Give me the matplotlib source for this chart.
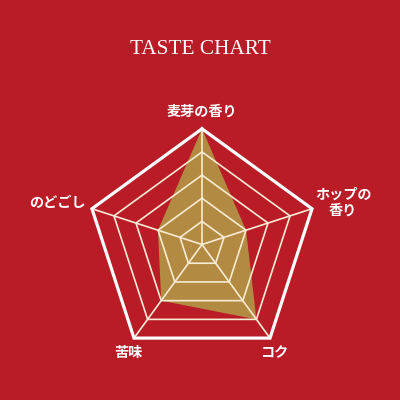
import numpy as np
import matplotlib

matplotlib.use("Agg")
import matplotlib.pyplot as plt

# Chart data
categories = ["麦芽の香り", "ホップの香り", "コク", "苦味", "のどごし"]
values = [5, 2, 4, 3, 2]
levels = [1, 2, 3, 4, 5]
title = "TASTE CHART"

BG = "#B91C26"
FILL = "#B38A42"
GRID = "#F7EBD3"

# label offsets from the chart center, in pixels (x right, y up)
label_off = [(0, 133), (141, 42), (73.5, -108.5), (-73.7, -108.5), (-145, 41)]

n = len(categories)
angles = np.pi / 2 - 2 * np.pi * np.arange(n) / n


def xy(r):
    r = np.asarray(r, dtype=float)
    return r * np.cos(angles), r * np.sin(angles)


fig = plt.figure(figsize=(4, 4), dpi=100, facecolor=BG)
ax = fig.add_axes([0, 0, 1, 1])
ax.set_facecolor(BG)
ax.axis("off")

# pixel geometry: center at (202, 244.5), outer radius 115.7 px
scale = 115.7 / max(levels)
ax.set_xlim(-202 / scale, (400 - 202) / scale)
ax.set_ylim(-(400 - 244.5) / scale, 244.5 / scale)

# filled data polygon
vx, vy = xy(values)
ax.fill(vx, vy, color=FILL, zorder=1, linewidth=0)

# rings
for lv in levels:
    rx, ry = xy([lv] * n)
    rx = np.append(rx, rx[0])
    ry = np.append(ry, ry[0])
    if lv == levels[-1]:
        ax.plot(rx, ry, color="white", linewidth=2.3, zorder=3, solid_joinstyle="miter")
    else:
        ax.plot(rx, ry, color=GRID, linewidth=1.2, zorder=2)

# spokes
ox, oy = xy([levels[-1]] * n)
for x, y in zip(ox, oy):
    ax.plot([0, x], [0, y], color=GRID, linewidth=1.2, zorder=2)

# category labels
for cat, (dx, dy) in zip(categories, label_off):
    text = "ホップの\n香り" if cat == "ホップの香り" else cat
    ax.text(dx / scale, dy / scale, text, color="white", fontsize=10.2, fontweight="bold",
            family=["Noto Sans CJK JP", "DejaVu Sans"],
            ha="center", va="center", linespacing=1.15)

fig.text(0.5, 1 - 49 / 400, title, color="white", fontsize=15.3,
         family="Liberation Serif", ha="center", va="center")

fig.savefig("out.png", dpi=100, facecolor=BG)
plt.close(fig)
